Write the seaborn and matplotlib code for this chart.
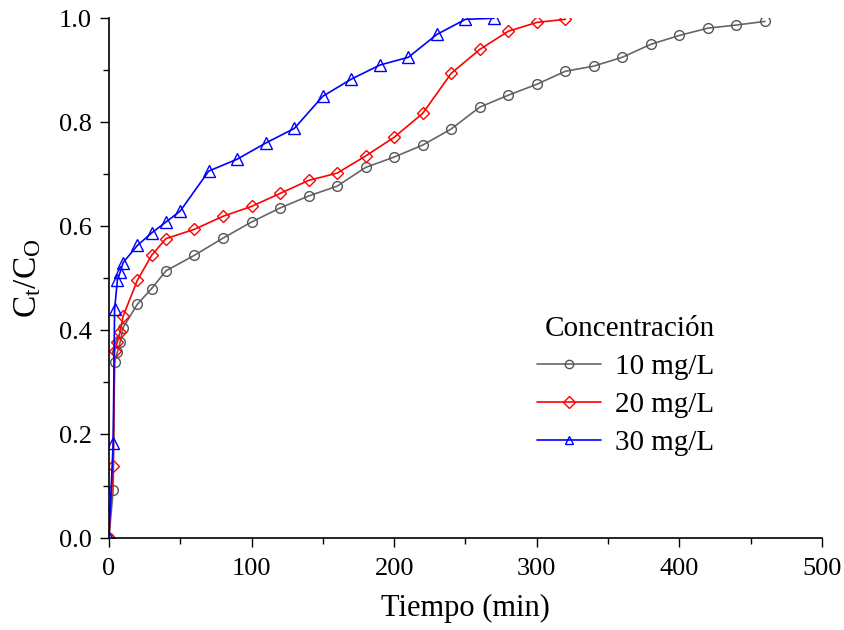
import matplotlib
matplotlib.use("Agg")
import matplotlib.pyplot as plt
from matplotlib.ticker import MultipleLocator, FormatStrFormatter
import seaborn as sns
import pandas as pd

# Adsorption kinetics: relative concentration vs. time for three initial concentrations
t_10 = [0, 3, 4, 6, 8, 10, 20, 30, 40, 60, 80, 100, 120, 140, 160, 180, 200, 220,
        240, 260, 280, 300, 320, 340, 360, 380, 400, 420, 440, 460]
c_10 = [0, 0.092, 0.338, 0.358, 0.378, 0.405, 0.45, 0.48, 0.514, 0.544, 0.577, 0.608,
        0.635, 0.658, 0.677, 0.713, 0.733, 0.756, 0.787, 0.829, 0.852, 0.873, 0.898,
        0.908, 0.925, 0.950, 0.967, 0.981, 0.987, 0.994]

t_20 = [0, 3, 4, 6, 8, 10, 20, 30, 40, 60, 80, 100, 120, 140, 160, 180, 200, 220,
        240, 260, 280, 300, 320]
c_20 = [0, 0.138, 0.36, 0.378, 0.397, 0.427, 0.496, 0.544, 0.576, 0.594, 0.619, 0.638,
        0.663, 0.688, 0.702, 0.735, 0.771, 0.817, 0.894, 0.94, 0.975, 0.992, 0.998]

t_30 = [0, 3, 4, 6, 8, 10, 20, 30, 40, 50, 70, 90, 110, 130, 150, 170, 190, 210,
        230, 250, 270]
c_30 = [0, 0.182, 0.44, 0.497, 0.512, 0.53, 0.563, 0.587, 0.608, 0.629, 0.706, 0.729,
        0.76, 0.788, 0.85, 0.883, 0.91, 0.925, 0.969, 0.998, 1.0]

series_labels = ["10 mg/L", "20 mg/L", "30 mg/L"]
legend_title = "Concentración"
x_label = "Tiempo (min)"
y_label = r"C$_\mathrm{t}$/C$_\mathrm{O}$"

sns.set_style("ticks")
plt.rcParams["font.family"] = ["Liberation Serif", "DejaVu Serif"]
plt.rcParams["mathtext.fontset"] = "custom"
plt.rcParams["mathtext.rm"] = "Liberation Serif"
plt.rcParams["mathtext.it"] = "Liberation Serif:italic"
plt.rcParams["text.color"] = "black"
plt.rcParams["axes.labelcolor"] = "black"

fig = plt.figure(figsize=(8.44, 6.30), dpi=100)
ax = fig.add_axes([0.129, 0.146, 0.845, 0.825])

styles = [
    dict(color="#666666", marker="o", mec="#555555"),
    dict(color="#FF0000", marker="D", mec="#FF0000"),
    dict(color="#0000FF", marker="^", mec="#0000FF"),
]
sizes = [7, 6.5, 8]

for t, c, lab, st, ms in zip([t_10, t_20, t_30], [c_10, c_20, c_30],
                             series_labels, styles, sizes):
    df = pd.DataFrame({"t": t, "c": c})
    sns.lineplot(data=df, x="t", y="c", ax=ax, label=lab, estimator=None, sort=False,
                 color=st["color"], marker=st["marker"], markersize=ms,
                 markerfacecolor="none", markeredgecolor=st["mec"],
                 markeredgewidth=1.0, linewidth=1.2)

ax.set_xlim(0, 500)
ax.set_ylim(0, 1.0)
ax.xaxis.set_major_locator(MultipleLocator(100))
ax.xaxis.set_minor_locator(MultipleLocator(50))
ax.yaxis.set_major_locator(MultipleLocator(0.2))
ax.yaxis.set_minor_locator(MultipleLocator(0.1))
ax.yaxis.set_major_formatter(FormatStrFormatter("%.1f"))

for side in ["top", "right"]:
    ax.spines[side].set_visible(False)
for side in ["left", "bottom"]:
    ax.spines[side].set_linewidth(1.2)
    ax.spines[side].set_color("black")

ax.tick_params(axis="both", which="major", direction="out", length=6.5, width=1.0,
               labelsize=19, colors="black")
ax.tick_params(axis="y", which="major", pad=6)
ax.tick_params(axis="x", which="major", pad=8)
ax.tick_params(axis="both", which="minor", direction="out", length=4, width=1.0,
               colors="black")

ax.set_xlabel(x_label, fontsize=22, labelpad=10)
ax.set_ylabel(y_label, fontsize=24, labelpad=11)

leg = ax.legend(title=legend_title, frameon=False, loc="upper left",
                bbox_to_anchor=(0.563, 0.478), fontsize=21, title_fontsize=21,
                handlelength=2.2, handletextpad=0.5, labelspacing=0.4)
leg._legend_box.align = "right"
for h in leg.legend_handles:
    h.set_markersize(6)
for txt in leg.get_texts():
    txt.set_color("black")

fig.savefig("out.png", dpi=100)
